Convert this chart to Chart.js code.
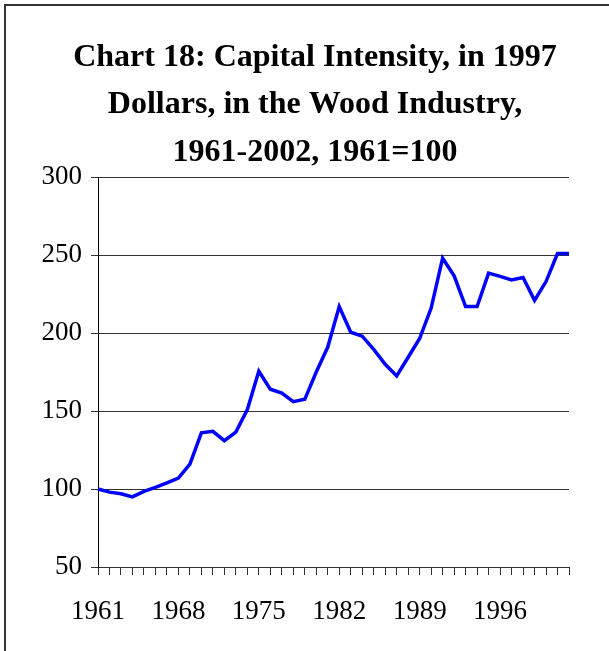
<!DOCTYPE html>
<html>
<head>
<meta charset="utf-8">
<script src="https://cdn.jsdelivr.net/npm/chart.js@4"></script>
<style>
  html, body { margin: 0; padding: 0; background: #fff; overflow: hidden; }
  #wrap { position: absolute; left: 0; top: 0; width: 630px; height: 651px; }
</style>
</head>
<body>
<div id="wrap"><canvas id="c" width="630" height="651"></canvas></div>
<script>
const years = [];
for (let y = 1961; y <= 2002; y++) years.push(String(y));
const shownYearLabels = ["1961", "1968", "1975", "1982", "1989", "1996"];
const capitalIntensity = [
  100, 98, 97, 95, 98.5, 101, 104, 107, 116, 136,
  137, 131, 136.5, 151, 175.5, 164, 161.5, 156, 157.5, 175,
  191, 217, 200.5, 198, 189.5, 180, 172.5, 184.5, 196.5, 216,
  248, 236.7, 217, 217, 238.4, 236.3, 234, 235.6, 221, 233,
  251, 251
];
const yTicks = [50, 100, 150, 200, 250, 300];
const titleLines = ["Chart 18: Capital Intensity, in 1997", "Dollars, in the Wood Industry,", "1961-2002, 1961=100"];

const frame = {
  id: 'frame',
  beforeDraw(chart) {
    const ctx = chart.ctx;
    ctx.save();
    ctx.fillStyle = '#fff';
    ctx.fillRect(0, 0, chart.width, chart.height);
    ctx.strokeStyle = '#333';
    ctx.lineWidth = 2;
    ctx.beginPath();
    ctx.moveTo(5, chart.height + 2);
    ctx.lineTo(5, 5);
    ctx.lineTo(chart.width + 2, 5);
    ctx.stroke();
    ctx.restore();
  }
};

const serif = "'Liberation Serif', 'Times New Roman', serif";

new Chart(document.getElementById('c'), {
  type: 'line',
  data: {
    labels: years,
    datasets: [{
      data: capitalIntensity,
      borderColor: '#0000ff',
      borderWidth: 3.5,
      pointRadius: 0,
      tension: 0,
      fill: false
    }]
  },
  options: {
    responsive: false,
    animation: false,
    devicePixelRatio: 1,
    layout: { padding: 0 },
    plugins: {
      legend: { display: false },
      tooltip: { enabled: false },
      title: {
        display: true,
        text: titleLines,
        color: '#000',
        font: { family: serif, size: 32, weight: 'bold', lineHeight: 1.48 },
        padding: { top: 34, bottom: 1 }
      }
    },
    scales: {
      x: {
        type: 'category',
        offset: false,
        grid: {
          drawOnChartArea: false,
          drawTicks: true,
          tickLength: 8,
          color: '#333',
          lineWidth: 1
        },
        border: { display: true, color: '#333', width: 1 },
        ticks: {
          autoSkip: false,
          maxRotation: 0,
          minRotation: 0,
          padding: 21,
          color: '#000',
          font: { family: serif, size: 27 },
          callback: function(value, index) {
            const lab = this.getLabelForValue(value);
            return shownYearLabels.includes(lab) ? lab : '';
          }
        },
        afterFit(scale) {
          scale.height = 84;
          scale.paddingLeft = 0;
          scale.paddingRight = 61;
        }
      },
      y: {
        min: yTicks[0],
        max: yTicks[yTicks.length - 1],
        afterBuildTicks(scale) {
          scale.ticks = yTicks.map(v => ({ value: v }));
        },
        grid: {
          drawOnChartArea: true,
          drawTicks: true,
          tickLength: 7,
          color: '#333',
          lineWidth: 1
        },
        border: { display: true, color: '#000', width: 1 },
        ticks: {
          padding: 9,
          color: '#000',
          font: { family: serif, size: 27 }
        },
        afterFit(scale) {
          scale.width = 98;
          scale.paddingTop = 0;
          scale.paddingBottom = 0;
        }
      }
    }
  },
  plugins: [frame]
});
</script>
</body>
</html>
